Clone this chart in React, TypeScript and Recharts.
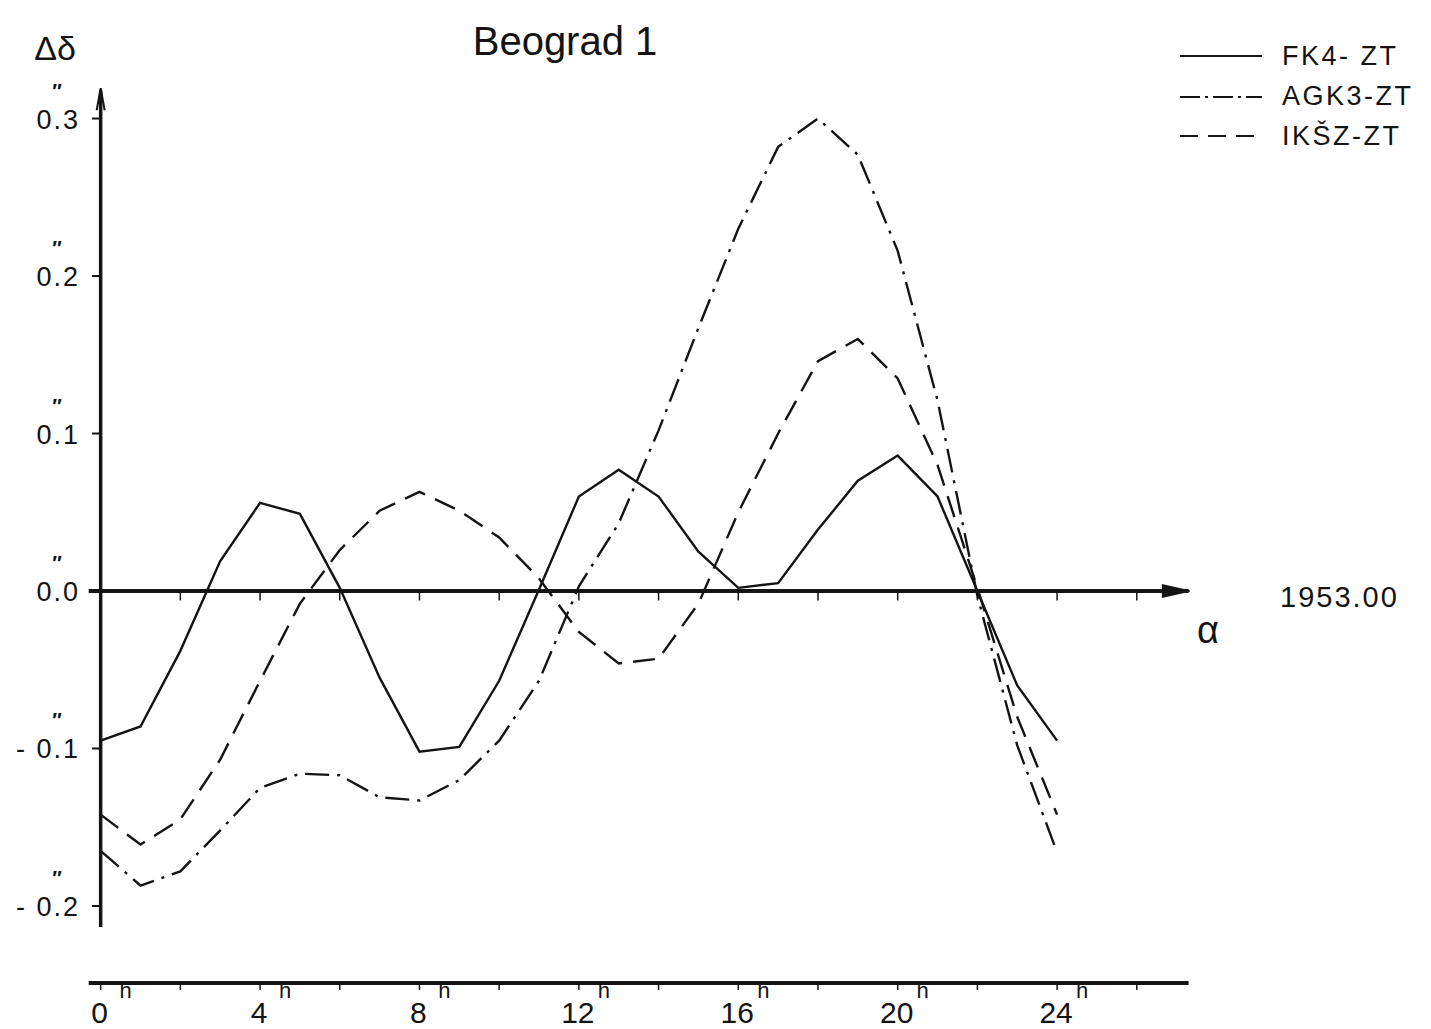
import React from 'react';
import { LineChart, Line, XAxis, YAxis, ReferenceLine, ReferenceDot } from 'recharts';

const hours = [0, 1, 2, 3, 4, 5, 6, 7, 8, 9, 10, 11, 12, 13, 14, 15, 16, 17, 18, 19, 20, 21, 22, 23, 24];
const fk4 = [-0.095, -0.086, -0.038, 0.019, 0.056, 0.049, 0.002, -0.055, -0.102, -0.099, -0.057, 0.001, 0.06, 0.077, 0.06, 0.025, 0.002, 0.005, 0.039, 0.07, 0.086, 0.06, 0.0, -0.06, -0.095];
const agk3 = [-0.165, -0.187, -0.178, -0.152, -0.125, -0.116, -0.117, -0.131, -0.133, -0.12, -0.095, -0.057, 0.003, 0.043, 0.102, 0.167, 0.23, 0.282, 0.3, 0.277, 0.216, 0.121, -0.003, -0.098, -0.166];
const iksz = [-0.142, -0.161, -0.145, -0.107, -0.057, -0.008, 0.026, 0.051, 0.063, 0.051, 0.034, 0.008, -0.026, -0.046, -0.043, -0.008, 0.05, 0.1, 0.146, 0.16, 0.135, 0.08, 0.002, -0.08, -0.142];

const yTicks = [-0.2, -0.1, 0, 0.1, 0.2, 0.3];
const xTicks = [0, 2, 4, 6, 8, 10, 12, 14, 16, 18, 20, 22, 24, 26];
const xLabelHours = [0, 4, 8, 12, 16, 20, 24];
const zeroLineTicks = [2, 4, 6, 8, 10, 12, 14, 16, 18, 20, 22, 24, 26];
const legendLabels = ['FK4- ZT', 'AGK3-ZT', 'IKŠZ-ZT'];
const titleText = 'Beograd 1';
const yAxisTitle = 'Δδ';
const xAxisTitle = 'α';
const epochLabel = '1953.00';

const data = hours.map((h, i) => ({ h, fk4: fk4[i], agk3: agk3[i], iksz: iksz[i] }));

const INK = '#141414';
const FONT = "'Liberation Sans', 'DejaVu Sans', sans-serif";
const DASH_DOT = '24 8 3 8';
const DASHED = '22 11';

const YTick = (props: any) => {
  const { y, payload } = props;
  const v = payload.value as number;
  const neg = v < 0;
  const s = Math.abs(v).toFixed(1);
  return (
    <g>
      <line x1={92} x2={101} y1={y} y2={y} stroke={INK} strokeWidth={2} />
      <text x={80} y={y + 10} textAnchor="end" fontSize={27} fill={INK} fontFamily={FONT} letterSpacing={2}>
        {neg ? '- ' : ''}{s}
      </text>
      <text x={57} y={y - 21} textAnchor="middle" fontSize={20} fontWeight="bold" fill={INK} fontFamily={FONT}>″</text>
    </g>
  );
};

const XTick = (props: any) => {
  const { x, payload } = props;
  const v = payload.value as number;
  if (xLabelHours.indexOf(v) < 0) return <g />;
  return (
    <g>
      <text x={x - 1} y={1023} textAnchor="middle" fontSize={30} fill={INK} fontFamily={FONT}>{String(v)}</text>
      <text x={x + 25} y={998} textAnchor="middle" fontSize={22} fill={INK} fontFamily={FONT}>h</text>
    </g>
  );
};

const ArrowRight = (p: any) => (
  <path d={`M ${p.cx - 24} ${p.cy - 6} L ${p.cx + 3} ${p.cy} L ${p.cx - 24} ${p.cy + 6} Z`} fill={INK} stroke={INK} strokeWidth={1.5} />
);
const ArrowUp = (p: any) => (
  <path d={`M ${p.cx - 4} ${p.cy + 20} L ${p.cx} ${p.cy - 2} L ${p.cx + 4} ${p.cy + 20}`} fill="none" stroke={INK} strokeWidth={2} />
);

export default function App() {
  return (
    <div style={{ position: 'absolute', left: 0, top: 0, width: 1431, height: 1029, background: '#fff' }}>
      <LineChart width={1431} height={1029} data={data} margin={{ top: 85, right: 242.4, bottom: 6, left: 8.7 }}>
        <XAxis
          dataKey="h"
          type="number"
          domain={[-0.3, 27.3]}
          ticks={xTicks}
          interval={0}
          allowDataOverflow
          height={40}
          axisLine={{ stroke: INK, strokeWidth: 4 }}
          tickLine={{ stroke: INK, strokeWidth: 1.5 }}
          tickSize={7}
          tick={<XTick />}
        />
        <YAxis
          type="number"
          domain={[-0.2489, 0.3213]}
          ticks={yTicks}
          interval={0}
          allowDataOverflow
          width={80}
          axisLine={false}
          tickLine={false}
          tick={<YTick />}
        />
        <ReferenceLine y={0} stroke={INK} strokeWidth={4} />
        <ReferenceLine segment={[{ x: 0, y: -0.2133 }, { x: 0, y: 0.318 }]} stroke={INK} strokeWidth={3.5} />
        {zeroLineTicks.map((t) => (
          <ReferenceLine key={t} segment={[{ x: t, y: 0 }, { x: t, y: -0.006 }]} stroke={INK} strokeWidth={1.5} />
        ))}
        <ReferenceDot x={27.25} y={0} r={1} shape={ArrowRight} />
        <ReferenceDot x={0} y={0.318} r={1} shape={ArrowUp} />
        <Line type="linear" dataKey="fk4" stroke={INK} strokeWidth={2.4} dot={false} isAnimationActive={false} />
        <Line type="linear" dataKey="agk3" stroke={INK} strokeWidth={2.4} strokeDasharray={DASH_DOT} dot={false} isAnimationActive={false} />
        <Line type="linear" dataKey="iksz" stroke={INK} strokeWidth={2.4} strokeDasharray={DASHED} dot={false} isAnimationActive={false} />
      </LineChart>
      <svg width={1431} height={1029} style={{ position: 'absolute', left: 0, top: 0, pointerEvents: 'none' }}>
        <text x={565} y={55} textAnchor="middle" fontSize={40} fill={INK} fontFamily={FONT}>{titleText}</text>
        <text x={55} y={60} textAnchor="middle" fontSize={34} fill={INK} fontFamily={FONT}>{yAxisTitle}</text>
        <line x1={1180} x2={1262} y1={56} y2={56} stroke={INK} strokeWidth={2} />
        <line x1={1180} x2={1262} y1={97} y2={97} stroke={INK} strokeWidth={2} strokeDasharray="20 5 3 5" />
        <line x1={1180} x2={1262} y1={136} y2={136} stroke={INK} strokeWidth={2} strokeDasharray="18 10" />
        {legendLabels.map((l, i) => (
          <text key={l} x={1282} y={65 + i * 40} fontSize={27} fill={INK} fontFamily={FONT} letterSpacing={2.5}>{l}</text>
        ))}
        <text x={1280} y={607} fontSize={29} fill={INK} fontFamily={FONT} letterSpacing={2}>{epochLabel}</text>
        <text x={1208} y={643} textAnchor="middle" fontSize={38} fill={INK} fontFamily={FONT}>{xAxisTitle}</text>
      </svg>
    </div>
  );
}
